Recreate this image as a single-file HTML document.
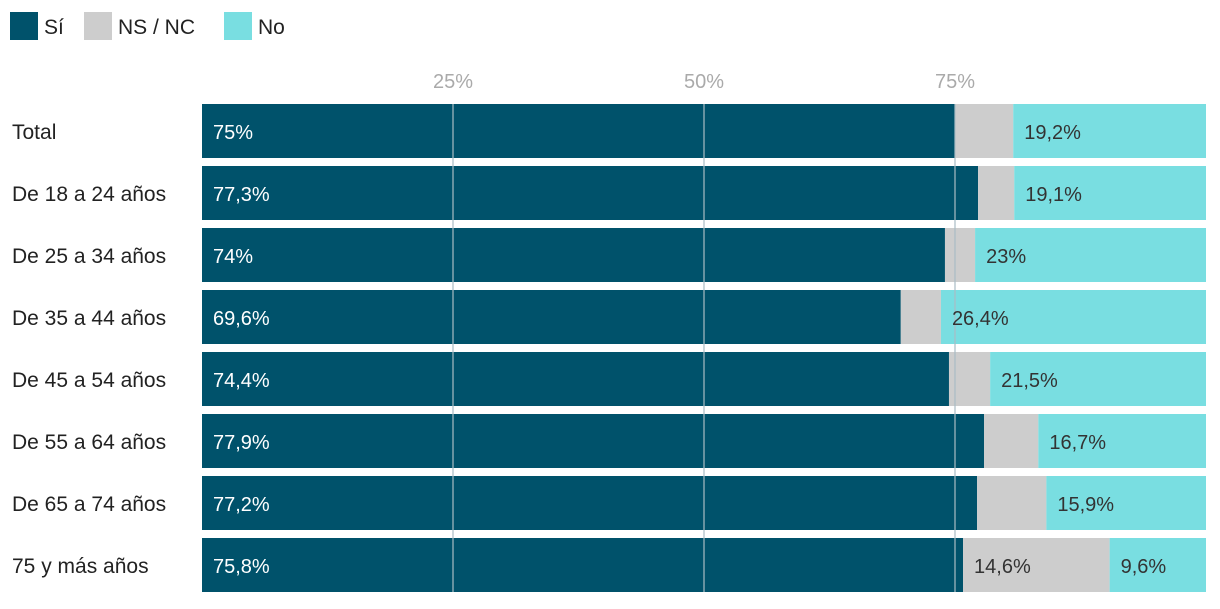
<!DOCTYPE html>
<html><head><meta charset="utf-8"><style>
body{margin:0;background:#fff;font-family:"Liberation Sans",sans-serif;}
svg text{font-family:"Liberation Sans",sans-serif;}
</style></head><body>
<svg id="chart" width="1220" height="604" xmlns="http://www.w3.org/2000/svg">
<g>
<rect x="10" y="12" width="28" height="28" fill="#00526b"/>
<text x="44" y="34" font-size="21" fill="#222">Sí</text>
<rect x="84" y="12" width="28" height="28" fill="#cdcdcd"/>
<text x="118" y="34" font-size="21" fill="#222">NS / NC</text>
<rect x="224" y="12" width="28" height="28" fill="#79dee1"/>
<text x="258" y="34" font-size="21" fill="#222">No</text>
</g>
<g id="bars"></g>
<g id="grid"></g>
<g id="labels"></g>
</svg>
<script>
const categories=["Total","De 18 a 24 años","De 25 a 34 años","De 35 a 44 años","De 45 a 54 años","De 55 a 64 años","De 65 a 74 años","75 y más años"];
const siValues=[75,77.3,74,69.6,74.4,77.9,77.2,75.8];
const nsValues=[5.8,3.6,3,4,4.1,5.4,6.9,14.6];
const noValues=[19.2,19.1,23,26.4,21.5,16.7,15.9,9.6];
const tickValues=[25,50,75];
const tickLabels=["25%","50%","75%"];
const NS="http://www.w3.org/2000/svg";
const x0=202,plotW=1004,y0=104,rowH=62,barH=54;
const xs=v=>x0+v/100*plotW;
const ys=i=>y0+i*rowH;
const fmt=v=>String(v).replace(".",",")+"%";
function mk(tag,attrs,parent,txt){const e=document.createElementNS(NS,tag);for(const k in attrs)e.setAttribute(k,attrs[k]);if(txt!==undefined)e.textContent=txt;parent.appendChild(e);return e;}
const gB=document.getElementById("bars"),gG=document.getElementById("grid"),gL=document.getElementById("labels");
const series=[{vals:siValues,col:"#00526b",tc:"#fff",n:"si"},{vals:nsValues,col:"#cdcdcd",tc:"#333",n:"nsnc"},{vals:noValues,col:"#79dee1",tc:"#333",n:"no"}];
categories.forEach((c,i)=>{
  const t=mk("text",{x:12,y:ys(i)+barH/2+8,"font-size":21,fill:"#222"},gL,c);
  
  
  let acc=0;
  series.forEach(s=>{
    const v=s.vals[i];
    const r=mk("rect",{x:xs(acc),y:ys(i),width:xs(acc+v)-xs(acc),height:barH,fill:s.col},gB);
    
    
    if(s.n!=="nsnc"||v>=10){
      const l=mk("text",{x:xs(acc)+11,y:ys(i)+barH/2+8,"font-size":20,fill:s.tc},gL,fmt(v));
      
      
    }
    acc+=v;
  });
});
tickValues.forEach((v,k)=>{
  const l=mk("line",{x1:xs(v),x2:xs(v),y1:y0,y2:ys(categories.length-1)+barH,stroke:"#a9bcc4","stroke-width":1.2},gG);
  
  
  const t=mk("text",{x:xs(v),y:88,"font-size":20,fill:"#aaa","text-anchor":"middle"},gG,tickLabels[k]);
  
  
});
</script>
</body></html>
